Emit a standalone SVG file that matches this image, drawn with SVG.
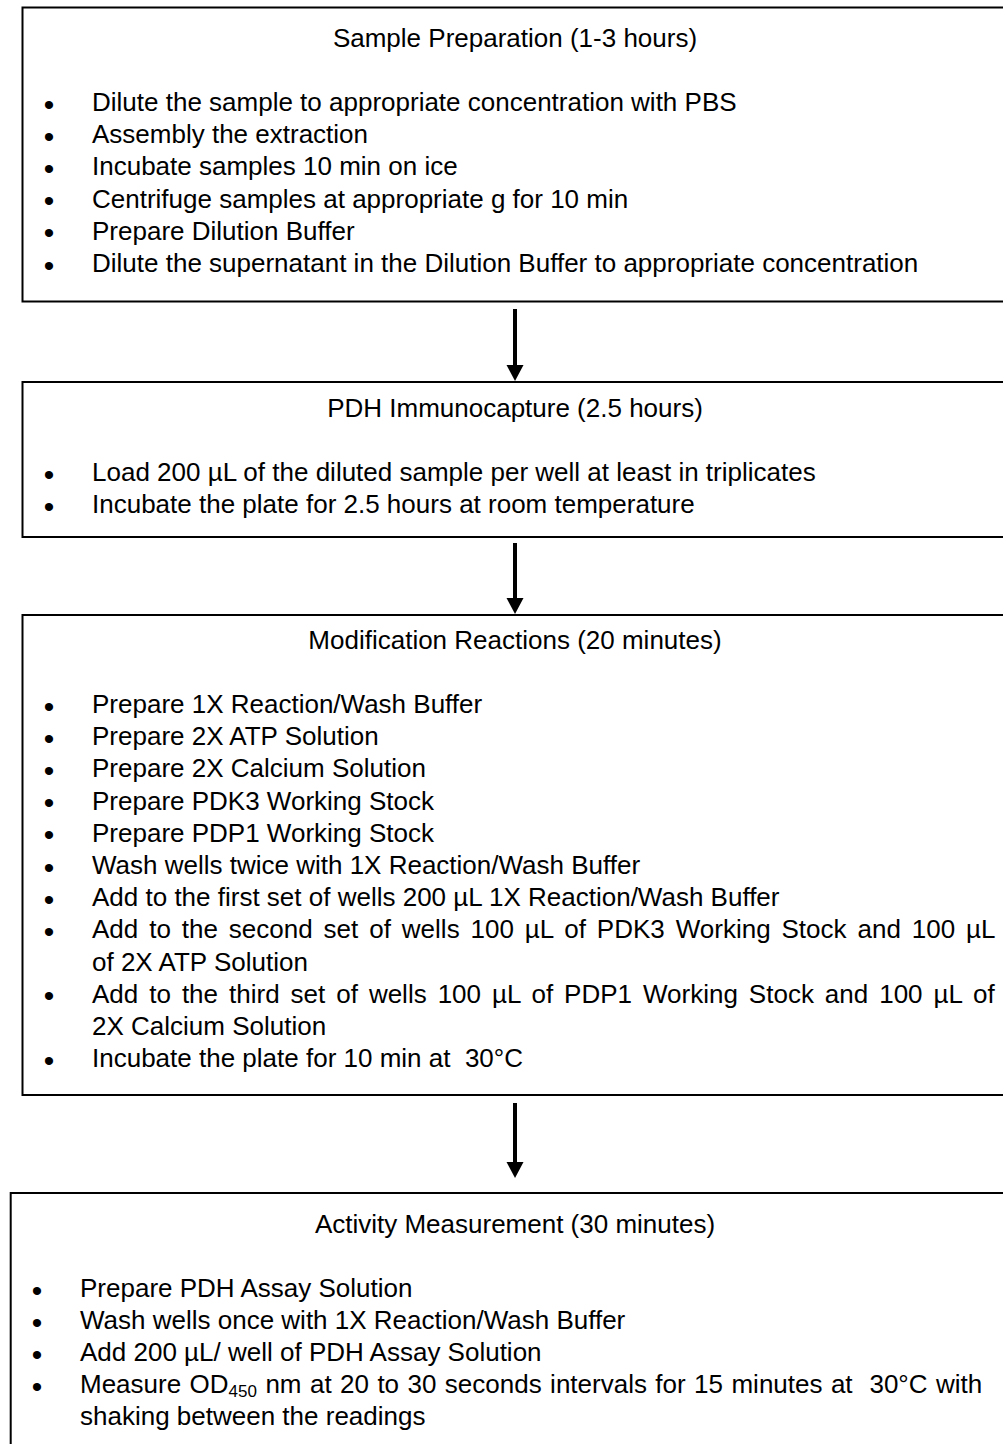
<svg xmlns="http://www.w3.org/2000/svg" width="1003" height="1444" viewBox="0 0 1003 1444" xml:space="preserve">
<defs>
<style>
.box{fill:#fff;stroke:#000;stroke-width:2}
text{font-family:"Liberation Sans",Arial,sans-serif;font-size:26px;fill:#000;white-space:pre}
.t{text-anchor:middle}
.b{text-anchor:middle;font-size:30px}
.sub{font-size:17px}
.arr{stroke:#000;stroke-width:4;fill:none}
.head{fill:#000}
</style>
</defs>
<rect width="1003" height="1444" fill="#fff"/>
<g id="connectors">
<line class="arr" x1="515" y1="309" x2="515" y2="368"/>
<polygon class="head" points="506.5,365 523.5,365 515,381"/>
<line class="arr" x1="515" y1="543" x2="515" y2="601"/>
<polygon class="head" points="506.5,598 523.5,598 515,614"/>
<line class="arr" x1="515" y1="1103" x2="515" y2="1165"/>
<polygon class="head" points="506.5,1162 523.5,1162 515,1178"/>
</g>
<g id="node-sample-preparation">
<rect class="box" x="22.5" y="7.5" width="1000" height="294"/>
<text class="t" x="515" y="47">Sample Preparation (1-3 hours)</text>
<text class="b" x="49" y="114.5">•</text><text x="92" y="111">Dilute the sample to appropriate concentration with PBS</text>
<text class="b" x="49" y="146.7">•</text><text x="92" y="143.2">Assembly the extraction</text>
<text class="b" x="49" y="178.9">•</text><text x="92" y="175.4">Incubate samples 10 min on ice</text>
<text class="b" x="49" y="211.1">•</text><text x="92" y="207.6">Centrifuge samples at appropriate g for 10 min</text>
<text class="b" x="49" y="243.3">•</text><text x="92" y="239.8">Prepare Dilution Buffer</text>
<text class="b" x="49" y="275.5">•</text><text x="92" y="272">Dilute the supernatant in the Dilution Buffer to appropriate concentration</text>
</g>
<g id="node-pdh-immunocapture">
<rect class="box" x="22.5" y="382" width="1000" height="155"/>
<text class="t" x="515" y="417">PDH Immunocapture (2.5 hours)</text>
<text class="b" x="49" y="484.5">•</text><text x="92" y="481">Load 200 µL of the diluted sample per well at least in triplicates</text>
<text class="b" x="49" y="516.5">•</text><text x="92" y="513">Incubate the plate for 2.5 hours at room temperature</text>
</g>
<g id="node-modification-reactions">
<rect class="box" x="22.5" y="615" width="1000" height="480"/>
<text class="t" x="515" y="649">Modification Reactions (20 minutes)</text>
<text class="b" x="49" y="716.5">•</text><text x="92" y="713">Prepare 1X Reaction/Wash Buffer</text>
<text class="b" x="49" y="748.7">•</text><text x="92" y="745.2">Prepare 2X ATP Solution</text>
<text class="b" x="49" y="780.9">•</text><text x="92" y="777.4">Prepare 2X Calcium Solution</text>
<text class="b" x="49" y="813.1">•</text><text x="92" y="809.6">Prepare PDK3 Working Stock</text>
<text class="b" x="49" y="845.3">•</text><text x="92" y="841.8">Prepare PDP1 Working Stock</text>
<text class="b" x="49" y="877.5">•</text><text x="92" y="874">Wash wells twice with 1X Reaction/Wash Buffer</text>
<text class="b" x="49" y="909.7">•</text><text x="92" y="906.2">Add to the first set of wells 200 µL 1X Reaction/Wash Buffer</text>
<text class="b" x="49" y="941.9">•</text><text x="92" y="938.4" word-spacing="3.7">Add to the second set of wells 100 µL of PDK3 Working Stock and 100 µL</text>
<text x="92" y="970.6">of 2X ATP Solution</text>
<text class="b" x="49" y="1006.3">•</text><text x="92" y="1002.8" word-spacing="3.75">Add to the third set of wells 100 µL of PDP1 Working Stock and 100 µL of</text>
<text x="92" y="1035">2X Calcium Solution</text>
<text class="b" x="49" y="1070.7">•</text><text x="92" y="1067.2">Incubate the plate for 10 min at  30°C</text>
</g>
<g id="node-activity-measurement">
<rect class="box" x="10.7" y="1193" width="1010" height="300"/>
<text class="t" x="515" y="1233">Activity Measurement (30 minutes)</text>
<text class="b" x="37" y="1300.5">•</text><text x="80" y="1297">Prepare PDH Assay Solution</text>
<text class="b" x="37" y="1332.5">•</text><text x="80" y="1329">Wash wells once with 1X Reaction/Wash Buffer</text>
<text class="b" x="37" y="1364.5">•</text><text x="80" y="1361">Add 200 µL/ well of PDH Assay Solution</text>
<text class="b" x="37" y="1396.5">•</text><text x="80" y="1393" word-spacing="1.2">Measure OD<tspan class="sub" dy="4">450</tspan><tspan dy="-4"> nm at 20 to 30 seconds intervals for 15 minutes at  30°C with</tspan></text>
<text x="80" y="1425">shaking between the readings</text>
</g>
</svg>
